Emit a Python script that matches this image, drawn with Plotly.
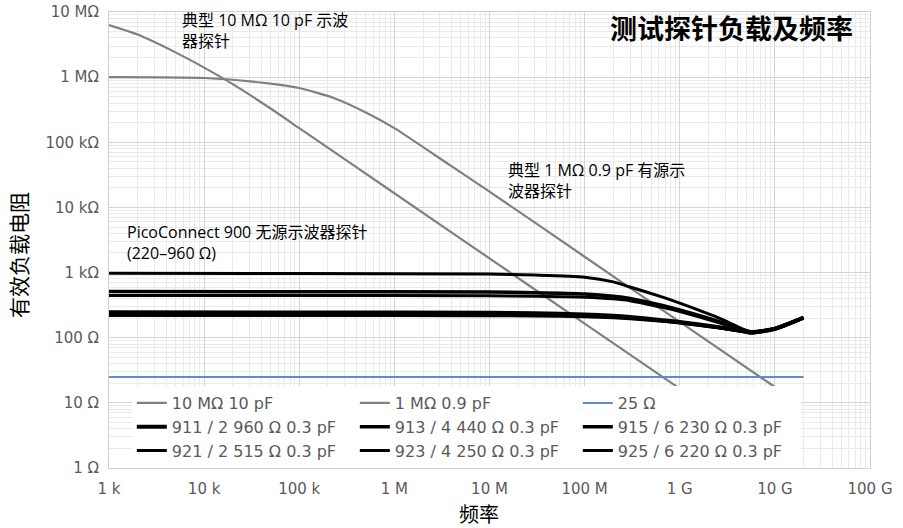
import plotly.graph_objects as go

# ---- data ----
freq_10m = [1e3, 2e3, 5e3, 1e4, 2e4, 5e4, 1e5, 1e6, 1e7, 1e8, 1e9]
z_10m = [6.3e6, 4.5e6, 2.4e6, 1.4e6, 7.8e5, 3.3e5, 1.65e5, 1.65e4, 1.65e3, 165, 16.5]

freq_1m = [1e3, 1e4, 4.5e4, 1e5, 2.3e5, 5.2e5, 1e6, 3.8e6, 1e7, 1e8, 1e9, 1e10]
z_1m = [1.0e6, 0.97e6, 0.81e6, 0.68e6, 0.48e6, 0.28e6, 0.165e6, 4.5e4, 1.75e4, 1.75e3, 175, 17.5]

freq_25 = [1e3, 2e10]
z_25 = [25, 25]

freq_pc = [1e3, 1e5, 1e7, 3e7, 1e8, 2e8, 3e8, 6.6e8, 1e9, 2.6e9, 4.4e9, 5.6e9, 1e10, 2e10]
z_911 = [245, 244, 242, 238, 228, 217, 208, 186, 174, 145, 128, 120, 137, 203]
z_913 = [510, 508, 503, 492, 470, 435, 402, 312, 266, 176, 133, 122, 138, 203]
z_915 = [232, 231, 230, 227, 219, 210, 202, 182, 171, 143, 127, 119, 136, 202]
z_921 = [220, 219, 218, 216, 210, 203, 196, 179, 168, 141, 126, 119, 136, 202]
z_923 = [445, 444, 440, 432, 418, 395, 370, 292, 253, 169, 131, 121, 137, 202]
z_925 = [975, 968, 948, 915, 850, 720, 600, 420, 340, 200, 140, 125, 140, 205]

x_tickvals = [1e3, 1e4, 1e5, 1e6, 1e7, 1e8, 1e9, 1e10, 1e11]
x_ticktext = ["1 k", "10 k", "100 k", "1 M", "10 M", "100 M", "1 G", "10 G", "100 G"]
y_tickvals = [1, 10, 100, 1e3, 1e4, 1e5, 1e6, 1e7]
y_ticktext = ["1 Ω", "10 Ω", "100 Ω", "1 kΩ", "10 kΩ", "100 kΩ", "1 MΩ", "10 MΩ"]

GRAY = "#808080"
BLUE = "#5f8bd0"
BLACK = "#000000"

fig = go.Figure()
traces = [
    ("10 MΩ 10 pF", freq_10m, z_10m, GRAY, 2.2),
    ("1 MΩ 0.9 pF", freq_1m, z_1m, GRAY, 2.2),
    ("25 Ω", freq_25, z_25, BLUE, 2),
    ("911 / 2 960 Ω 0.3 pF", freq_pc, z_911, BLACK, 4),
    ("913 / 4 440 Ω 0.3 pF", freq_pc, z_913, BLACK, 3.5),
    ("915 / 6 230 Ω 0.3 pF", freq_pc, z_915, BLACK, 3.5),
    ("921 / 2 515 Ω 0.3 pF", freq_pc, z_921, BLACK, 3),
    ("923 / 4 250 Ω 0.3 pF", freq_pc, z_923, BLACK, 3),
    ("925 / 6 220 Ω 0.3 pF", freq_pc, z_925, BLACK, 3),
]
for name, xs, ys, col, w in traces:
    fig.add_trace(go.Scatter(x=xs, y=ys, name=name, mode="lines",
                             line=dict(color=col, width=w, shape="spline", smoothing=0.6)))

TICKFONT = dict(family="DejaVu Sans", size=15, color="#5a5a5a")
CJK = "Open Sans, Noto Sans CJK SC"

fig.update_layout(
    width=903, height=528,
    margin=dict(l=109, r=33, t=12, b=60),
    paper_bgcolor="white", plot_bgcolor="white",
    showlegend=True,
    legend=dict(orientation="h", x=0.030, y=0.0, xanchor="left", yanchor="bottom",
                bgcolor="white", font=dict(family="DejaVu Sans", size=16, color="#5a5a5a"),
                entrywidth=178, entrywidthmode="pixels", tracegroupgap=0, itemwidth=30),
    xaxis=dict(type="log", range=[3, 11], tickmode="array", tickvals=x_tickvals,
               ticktext=x_ticktext, tickfont=TICKFONT, showgrid=True, gridcolor="#d4d4d4",
               gridwidth=1, ticks="", showline=True, linecolor="#cfcfcf", mirror=True,
               zeroline=False, automargin=False, ticklabelstandoff=7,
               minor=dict(dtick="D1", showgrid=True, gridcolor="#eaeaea", gridwidth=1, ticks="")),
    yaxis=dict(type="log", range=[0, 7], tickmode="array", tickvals=y_tickvals,
               ticktext=y_ticktext, tickfont=TICKFONT, showgrid=True, gridcolor="#d4d4d4",
               gridwidth=1, ticks="", showline=True, linecolor="#cfcfcf", mirror=True,
               zeroline=False, automargin=False, ticklabelstandoff=6,
               minor=dict(dtick="D1", showgrid=True, gridcolor="#eaeaea", gridwidth=1, ticks="")),
)

def px_x(px):
    return (px - 109) / 761.0

def px_y(py):
    return (468 - py) / 456.0

annots = [
    dict(text="典型 10 MΩ 10 pF 示波<br>器探针", x=px_x(181), y=px_y(8), xanchor="left",
         yanchor="top", align="left", font=dict(family=CJK, size=16, color="black")),
    dict(text="典型 1 MΩ 0.9 pF 有源示<br>波器探针", x=px_x(507), y=px_y(158), xanchor="left",
         yanchor="top", align="left", font=dict(family=CJK, size=16, color="black")),
    dict(text="PicoConnect 900 无源示波器探针<br>(220–960 Ω)", x=px_x(126), y=px_y(220),
         xanchor="left", yanchor="top", align="left", font=dict(family=CJK, size=16, color="black")),
    dict(text="<b>测试探针负载及频率</b>", x=px_x(854), y=px_y(27), xanchor="right",
         yanchor="middle", font=dict(family="Noto Sans CJK SC", size=27, color="black")),
    dict(text="频率", x=px_x(479), y=px_y(513), xanchor="center", yanchor="middle",
         font=dict(family="Noto Sans CJK SC", size=20, color="black")),
    dict(text="有效负载电阻", x=px_x(18), y=px_y(255), xanchor="center", yanchor="middle",
         textangle=-90, font=dict(family="Noto Sans CJK SC", size=21, color="black")),
]
for a in annots:
    fig.add_annotation(xref="paper", yref="paper", showarrow=False, borderpad=0, **a)

fig.write_html("out.html", config={"displayModeBar": False},
               post_script="document.body.style.margin='0px';")
